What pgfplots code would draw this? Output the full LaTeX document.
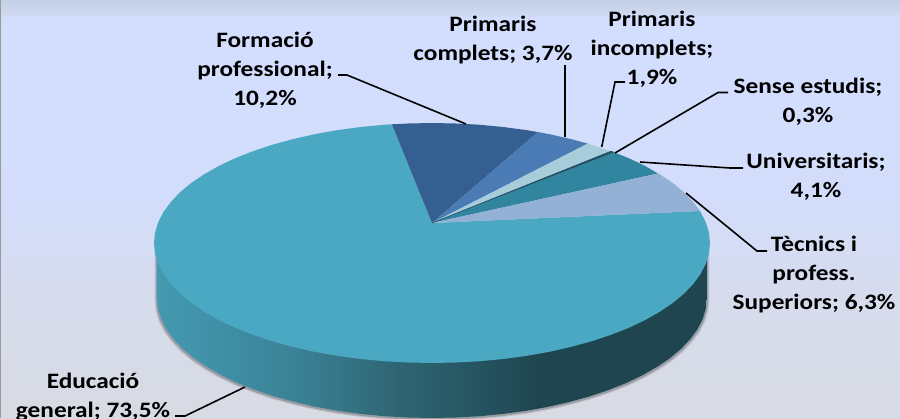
\documentclass[border=0pt]{standalone}
\usepackage{fontspec}
\setmainfont{Carlito}[FakeStretch=1.15]
\usepackage{pgfplots}
\pgfplotsset{compat=1.18}
\usepackage{pgfplotstable}
\definecolor{bgA}{HTML}{C4D0E6}
\definecolor{bgB}{HTML}{CDD8EE}
\definecolor{bgC}{HTML}{D3DDFE}
\definecolor{bgD}{HTML}{D3DDFB}
\definecolor{bgE}{HTML}{D6DCEC}
\definecolor{bgF}{HTML}{D8DBE3}
\definecolor{sideA}{HTML}{4399AF}
\definecolor{sideB}{HTML}{4193AA}
\definecolor{sideC}{HTML}{3A8195}
\definecolor{sideD}{HTML}{2F6573}
\definecolor{sideE}{HTML}{285A67}
\definecolor{sideF}{HTML}{1E4550}
\definecolor{cGeneral}{HTML}{4AA8C2}
\definecolor{cFormacio}{HTML}{355F90}
\definecolor{cComplets}{HTML}{4A7BB4}
\definecolor{cIncomplets}{HTML}{A6CDD9}
\definecolor{cSense}{HTML}{1F4F66}
\definecolor{cUniv}{HTML}{31859F}
\definecolor{cTecnics}{HTML}{93B1D5}
\pgfdeclareverticalshading{bgshade}{100bp}{
  color(0bp)=(bgF); color(25bp)=(bgF); color(39.1bp)=(bgE); color(51.1bp)=(bgD);
  color(72.85bp)=(bgC); color(73.56bp)=(bgB); color(75bp)=(bgA); color(100bp)=(bgA)}
\pgfdeclarehorizontalshading{sideshade}{100bp}{
  color(0bp)=(sideA); color(25bp)=(sideA); color(29bp)=(sideB); color(38bp)=(sideC);
  color(47bp)=(sideD); color(51.6bp)=(sideE); color(59.8bp)=(sideF); color(100bp)=(sideF)}
% lower rim of the top face, pixels of the picture; first and last row close the side upward
\pgfplotstableread{
x y
154 188
154.0 243.0
155.1 253.5
158.2 263.8
163.5 274.1
170.8 284.0
180.0 293.7
191.2 303.0
204.3 311.8
219.0 320.1
235.4 327.9
253.3 334.9
272.5 341.3
293.0 346.9
314.5 351.8
336.9 355.8
360.1 358.9
383.7 361.2
407.8 362.5
432.0 363.0
456.2 362.5
480.3 361.2
503.9 358.9
527.1 355.8
549.5 351.8
571.0 346.9
591.5 341.3
610.7 334.9
628.6 327.9
645.0 320.1
659.7 311.8
672.8 303.0
684.0 293.7
693.2 284.0
700.5 274.1
705.8 263.8
708.9 253.5
710.0 243.0
710 188
}\rimtable
\begin{document}
\begin{tikzpicture}
\begin{axis}[
  scale only axis,
  width=675pt, height=313.5pt,
  xmin=0, xmax=900, ymin=0, ymax=418,
  y dir=reverse,
  axis line style={draw=none},
  ticks=none,
  axis background/.style={shade, shading=bgshade},
  clip=true,
  every axis plot/.append style={forget plot},
  nodes={font=\bfseries\fontsize{16.5}{21.75}\selectfont, align=center, text=black, inner sep=0pt},
]
% frame line at the left
\addplot[draw=gray!80, line width=1pt] coordinates {(0.5,0) (0.5,418)};
% soft shadow under the disc
\addplot[fill=black, fill opacity=0.10, draw=none] table[x expr=432+0.998*(\thisrow{x}-432), y expr=\thisrow{y}+58] {\rimtable};
\addplot[fill=black, fill opacity=0.20, draw=none] table[x expr=432+0.994*(\thisrow{x}-432), y expr=\thisrow{y}+57] {\rimtable};
% side of the disc
\addplot[draw=none, shade, shading=sideshade] table[x expr=432+0.989*(\thisrow{x}-432), y expr=\thisrow{y}+55] {\rimtable};
% Educacio general 73,5
\addplot[fill=cGeneral, draw=none] coordinates {
  (432,223) (700,211) (705.8,222.2) (708.9,232.5) (710,243) (708.9,253.5) (705.8,263.8) (700.5,274.1)
  (693.2,284) (684,293.7) (672.8,303) (659.7,311.8) (645,320.1) (628.6,327.9) (610.7,334.9) (591.5,341.3)
  (571,346.9) (549.5,351.8) (527.1,355.8) (503.9,358.9) (480.3,361.2) (456.2,362.5) (432,363) (407.8,362.5)
  (383.7,361.2) (360.1,358.9) (336.9,355.8) (314.5,351.8) (293,346.9) (272.5,341.3) (253.3,334.9) (235.4,327.9)
  (219,320.1) (204.3,311.8) (191.2,303) (180,293.7) (170.8,284) (163.5,274.1) (158.2,263.8) (155.1,253.5)
  (154,243) (155.1,232.5) (158.2,222.2) (163.5,211.9) (170.8,202) (180,192.3) (191.2,183) (204.3,174.2)
  (219,165.9) (235.4,158.1) (253.3,151.1) (272.5,144.7) (293,139.1) (314.5,134.2) (336.9,130.2) (360.1,127.1)
  (383.7,124.8) (391.9,124.3)
};
% Formacio professional 10,2
\addplot[fill=cFormacio, draw=none] coordinates {
  (432,223) (391.9,124.3) (407.8,123.5) (432,123) (456.2,123.5) (480.3,124.8) (503.9,127.1) (527.1,130.2) (538,132.1)
};
% Primaris complets 3,7
\addplot[fill=cComplets, draw=none] coordinates {
  (432,223) (538,132.1) (549.5,134.2) (571,139.1) (587.8,143.6)
};
% Primaris incomplets 1,9
\addplot[fill=cIncomplets, draw=none] coordinates {
  (432,223) (587.8,143.6) (600,147.5) (611,151.2)
};
% Universitaris 4,1
\addplot[fill=cUniv, draw=none] coordinates {
  (432,223) (614,152.3) (628.6,158.1) (645,165.9) (658,173.5)
};
% Tecnics 6,3
\addplot[fill=cTecnics, draw=none] coordinates {
  (432,223) (658,173.5) (659.7,174.2) (672.8,183) (684,192.3) (693.2,202) (700,211)
};
% Sense estudis 0,3
\addplot[fill=cSense, draw=cSense, line width=0.4pt] coordinates {
  (432,223) (611,151.2) (614,152.3)
};
% leader lines
\addplot[black, line width=1.2pt] coordinates {(338,75) (347,75) (466,124)};
\addplot[black, line width=1.2pt] coordinates {(565,65) (565,137)};
\addplot[black, line width=1.2pt] coordinates {(625,82) (615,82) (601.7,147)};
\addplot[black, line width=1.2pt] coordinates {(728,92.5) (718,92.5) (615,153)};
\addplot[black, line width=1.2pt] coordinates {(743,168) (730,168) (640,162)};
\addplot[black, line width=1.2pt] coordinates {(767,251) (757,251) (686,193)};
\addplot[black, line width=1.2pt] coordinates {(175,416) (185,416) (245,387)};
% labels
\node at (axis cs:265,70) {Formació\\professional;\\10,2\%};
\node at (axis cs:493,40) {Primaris\\complets; 3,7\%};
\node at (axis cs:652,49) {Primaris\\incomplets;\\1,9\%};
\node at (axis cs:808,102) {Sense estudis;\\0,3\%};
\node at (axis cs:816,177) {Universitaris;\\4,1\%};
\node at (axis cs:814,275) {Tècnics i\\profess.\\Superiors; 6,3\%};
\node[overlay] at (axis cs:93,397) {Educació\\general; 73,5\%};
\end{axis}
\end{tikzpicture}
\end{document}
